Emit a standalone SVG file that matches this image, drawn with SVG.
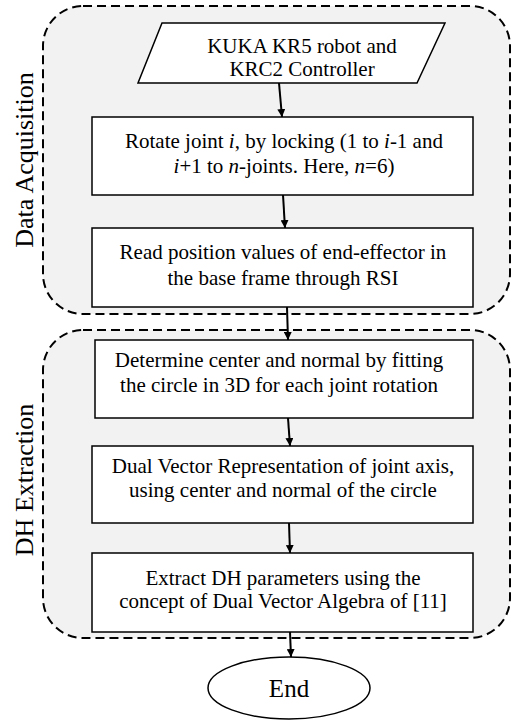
<svg xmlns="http://www.w3.org/2000/svg" width="511" height="724" viewBox="0 0 511 724" font-family="'Liberation Serif', 'Times New Roman', serif">
<defs>
<style>
.grp{fill:#f2f2f2;stroke:#000;stroke-width:2;stroke-dasharray:9,5}
.box{fill:#fff;stroke:#000;stroke-width:1.5}
.lbl{font-family:'Liberation Serif','Times New Roman',serif;font-size:21px;fill:#000;text-anchor:middle}
.side{font-family:'Liberation Serif','Times New Roman',serif;font-size:26px;fill:#000;text-anchor:middle}
.c{stroke:#000;stroke-width:2;fill:none;marker-end:url(#ah)}
</style>
<marker id="ah" viewBox="0 0 10 10" refX="10" refY="5" markerWidth="4" markerHeight="4" orient="auto" markerUnits="strokeWidth">
<path d="M0,0 L10,5 L0,10 z" fill="#000"/>
</marker>
</defs>
<rect width="511" height="724" fill="#fff"/>
<g id="group-data-acquisition">
<rect class="grp" x="43" y="6" width="467" height="308" rx="40" ry="40"/>
<text class="side" transform="translate(33,160) rotate(-90)">Data Acquisition</text>
</g>
<g id="group-dh-extraction">
<rect class="grp" x="43" y="330" width="467" height="308" rx="40" ry="40"/>
<text class="side" transform="translate(33,480) rotate(-90)">DH Extraction</text>
</g>
<g id="n1">
<polygon class="box" points="162,23 445,23 417,83 138,83"/>
<text class="lbl" x="302" y="53">KUKA KR5 robot and</text>
<text class="lbl" x="302" y="76">KRC2 Controller</text>
</g>
<g id="n2">
<rect class="box" x="92" y="117" width="381" height="78"/>
<text class="lbl" x="284" y="148">Rotate joint <tspan font-style="italic">i</tspan>, by locking (1 to <tspan font-style="italic">i</tspan>-1 and</text>
<text class="lbl" x="284" y="173"><tspan font-style="italic">i</tspan>+1 to <tspan font-style="italic">n</tspan>-joints. Here, <tspan font-style="italic">n</tspan>=6)</text>
</g>
<g id="n3">
<rect class="box" x="92" y="228" width="381" height="79"/>
<text class="lbl" x="283" y="259">Read position values of end-effector in</text>
<text class="lbl" x="283" y="285">the base frame through RSI</text>
</g>
<g id="n4">
<rect class="box" x="95" y="340" width="378" height="78"/>
<text class="lbl" x="279" y="367">Determine center and normal by fitting</text>
<text class="lbl" x="279" y="392">the circle in 3D for each joint rotation</text>
</g>
<g id="n5">
<rect class="box" x="92" y="446" width="381" height="77"/>
<text class="lbl" x="283" y="473">Dual Vector Representation of joint axis,</text>
<text class="lbl" x="283" y="497">using center and normal of the circle</text>
</g>
<g id="n6">
<rect class="box" x="92" y="553" width="381" height="79"/>
<text class="lbl" x="283" y="585">Extract DH parameters using the</text>
<text class="lbl" x="283" y="608">concept of Dual Vector Algebra of [11]</text>
</g>
<g id="end">
<ellipse class="box" cx="289" cy="688" rx="81" ry="31"/>
<text class="lbl" x="289" y="697" style="font-size:25px">End</text>
</g>
<g id="connectors">
<line class="c" x1="279" y1="83" x2="282" y2="117"/>
<line class="c" x1="283" y1="195" x2="285" y2="228"/>
<line class="c" x1="287" y1="307" x2="288" y2="340"/>
<line class="c" x1="288" y1="418" x2="290" y2="446"/>
<line class="c" x1="289" y1="523" x2="290" y2="553"/>
<line class="c" x1="290" y1="632" x2="291" y2="657"/>
</g>
</svg>
